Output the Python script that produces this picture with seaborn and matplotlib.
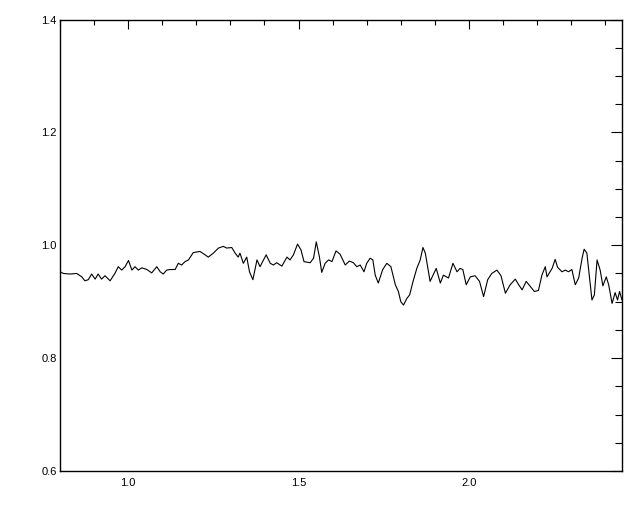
import matplotlib
matplotlib.use("Agg")
import matplotlib.pyplot as plt
from matplotlib.ticker import MultipleLocator, FixedLocator
import numpy as np
import pandas as pd
import seaborn as sns

wavelength = [
    0.800, 0.810, 0.829, 0.849, 0.864, 0.873, 0.883, 0.893, 0.903, 0.912,
    0.922, 0.932, 0.947, 0.961, 0.971, 0.981, 0.991, 1.001, 1.011, 1.020,
    1.030, 1.040, 1.055, 1.069, 1.084, 1.094, 1.103, 1.113, 1.123, 1.138,
    1.147, 1.157, 1.167, 1.177, 1.191, 1.211, 1.226, 1.235, 1.250, 1.265,
    1.279, 1.289, 1.304, 1.314, 1.323, 1.328, 1.338, 1.348, 1.356, 1.366,
    1.378, 1.387, 1.392, 1.405, 1.417, 1.426, 1.436, 1.451, 1.466, 1.475,
    1.485, 1.497, 1.507, 1.516, 1.534, 1.544, 1.552, 1.561, 1.568, 1.578,
    1.588, 1.598, 1.610, 1.622, 1.637, 1.649, 1.661, 1.671, 1.681, 1.692,
    1.700, 1.710, 1.718, 1.725, 1.734, 1.747, 1.759, 1.771, 1.784, 1.793,
    1.800, 1.808, 1.818, 1.826, 1.836, 1.847, 1.857, 1.865, 1.872, 1.886,
    1.904, 1.916, 1.925, 1.940, 1.953, 1.965, 1.974, 1.982, 1.992, 2.004,
    2.018, 2.031, 2.043, 2.055, 2.067, 2.082, 2.094, 2.107, 2.121, 2.136,
    2.146, 2.156, 2.168, 2.180, 2.192, 2.204, 2.214, 2.224, 2.229, 2.244,
    2.253, 2.260, 2.273, 2.283, 2.292, 2.302, 2.312, 2.322, 2.332, 2.338,
    2.346, 2.354, 2.361, 2.368, 2.376, 2.385, 2.393, 2.403, 2.410, 2.420,
    2.429, 2.436, 2.442, 2.449,
]
flux_ratio = [
    0.953, 0.950, 0.949, 0.950, 0.944, 0.937, 0.939, 0.949, 0.940, 0.949,
    0.940, 0.946, 0.937, 0.950, 0.962, 0.956, 0.962, 0.973, 0.956, 0.962,
    0.956, 0.960, 0.957, 0.951, 0.962, 0.953, 0.949, 0.956, 0.957, 0.957,
    0.968, 0.965, 0.971, 0.974, 0.987, 0.989, 0.983, 0.979, 0.986, 0.995,
    0.998, 0.995, 0.996, 0.986, 0.979, 0.986, 0.968, 0.979, 0.953, 0.939,
    0.974, 0.962, 0.968, 0.983, 0.968, 0.965, 0.969, 0.963, 0.979, 0.974,
    0.983, 1.002, 0.992, 0.971, 0.969, 0.977, 1.006, 0.980, 0.952, 0.968,
    0.974, 0.971, 0.990, 0.984, 0.965, 0.972, 0.969, 0.962, 0.965, 0.953,
    0.968, 0.977, 0.974, 0.947, 0.933, 0.957, 0.968, 0.962, 0.930, 0.918,
    0.900, 0.894, 0.906, 0.912, 0.936, 0.959, 0.974, 0.996, 0.986, 0.936,
    0.959, 0.933, 0.947, 0.942, 0.968, 0.953, 0.959, 0.957, 0.930, 0.944,
    0.946, 0.936, 0.909, 0.939, 0.950, 0.956, 0.946, 0.915, 0.930, 0.940,
    0.930, 0.921, 0.936, 0.927, 0.918, 0.920, 0.947, 0.962, 0.944, 0.959,
    0.975, 0.961, 0.953, 0.956, 0.953, 0.957, 0.930, 0.942, 0.977, 0.993,
    0.986, 0.942, 0.903, 0.912, 0.974, 0.956, 0.928, 0.944, 0.930, 0.897,
    0.916, 0.903, 0.918, 0.903,
]
x_ticklabels = ["1.0", "1.5", "2.0"]
y_ticklabels = ["0.6", "0.8", "1.0", "1.2", "1.4"]

df = pd.DataFrame({"wavelength": wavelength, "flux_ratio": flux_ratio})

sns.set_style("white")
plt.rcParams["font.family"] = ["Liberation Sans", "DejaVu Sans"]

fig = plt.figure(figsize=(6.4, 5.12), dpi=100)
ax = fig.add_axes([60 / 640, 1 - 471 / 512, (622.3 - 60) / 640, (471 - 19.5) / 512])

sns.lineplot(data=df, x="wavelength", y="flux_ratio", ax=ax, color="black",
             linewidth=0.8, estimator=None, sort=False)

ax.set_xlim(0.8, 2.45)
ax.set_ylim(0.6, 1.4)
ax.xaxis.set_major_locator(FixedLocator([float(t) for t in x_ticklabels]))
ax.set_xticklabels(x_ticklabels)
ax.xaxis.set_minor_locator(MultipleLocator(0.1))
ax.yaxis.set_major_locator(FixedLocator([float(t) for t in y_ticklabels]))
ax.set_yticklabels(y_ticklabels)
ax.yaxis.set_minor_locator(MultipleLocator(0.05))
ax.set_xlabel("")
ax.set_ylabel("")

for s in ax.spines.values():
    s.set_color("black")
    s.set_linewidth(1.0)

ax.tick_params(axis="both", which="both", direction="in", top=True, right=True,
               color="black", width=0.8, labelsize=8, labelcolor="black")
ax.tick_params(axis="x", which="major", length=6.5, pad=5)
ax.tick_params(axis="x", which="minor", length=3.6)
ax.tick_params(axis="y", which="major", length=8, pad=2.5)
ax.tick_params(axis="y", which="minor", length=4.7)

fig.savefig("out.png", dpi=100, facecolor="white")
